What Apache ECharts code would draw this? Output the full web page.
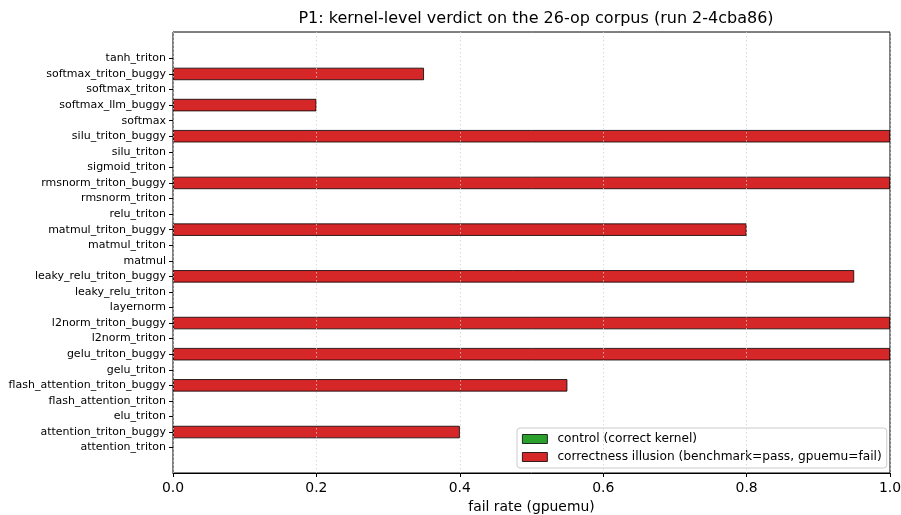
<!DOCTYPE html>
<html><head><meta charset="utf-8">
<script src="https://cdn.jsdelivr.net/npm/echarts@6/dist/echarts.min.js"></script>
<style>html,body{margin:0;padding:0;background:#fff}#c{width:901px;height:515px}</style>
</head><body><div id="c"></div>
<script>
const categories = ['attention_triton','attention_triton_buggy','elu_triton','flash_attention_triton','flash_attention_triton_buggy','gelu_triton','gelu_triton_buggy','l2norm_triton','l2norm_triton_buggy','layernorm','leaky_relu_triton','leaky_relu_triton_buggy','matmul','matmul_triton','matmul_triton_buggy','relu_triton','rmsnorm_triton','rmsnorm_triton_buggy','sigmoid_triton','silu_triton','silu_triton_buggy','softmax','softmax_llm_buggy','softmax_triton','softmax_triton_buggy','tanh_triton'];
const controlValues = [0,null,0,0,null,0,null,0,null,0,0,null,0,0,null,0,0,null,0,0,null,0,null,0,null,0];
const illusionValues = [null,0.40,null,null,0.55,null,1.0,null,1.0,null,null,0.95,null,null,0.80,null,null,1.0,null,null,1.0,null,0.20,null,0.35,null];
const xTicks = [0.0,0.2,0.4,0.6,0.8,1.0];

const F = 'DejaVu Sans';
const chart = echarts.init(document.getElementById('c'), null, {renderer:'canvas'});
chart.setOption({
  animation:false,
  textStyle:{fontFamily:F,color:'#000'},
  title:{text:'P1: kernel-level verdict on the 26-op corpus (run 2-4cba86)',left:531,top:6,textAlign:'center',
    textStyle:{fontFamily:F,fontSize:16,fontWeight:'normal',color:'#000'}},
  grid:[
    {left:173,right:11,top:32,bottom:42,show:true,borderColor:'#000',borderWidth:1,backgroundColor:'transparent',containLabel:false,outerBoundsMode:'none'},
    {left:173,right:11,top:50.6,bottom:59.6,containLabel:false,outerBoundsMode:'none'}
  ],
  xAxis:[
    {gridIndex:0,type:'value',min:0,max:1,interval:0.2,z:5,
     name:'fail rate (gpuemu)',nameLocation:'middle',nameGap:27,nameTextStyle:{fontFamily:F,fontSize:13.9,color:'#000'},
     axisLine:{show:true,lineStyle:{color:'#000'}},
     axisTick:{show:true,length:4,lineStyle:{color:'#000'}},
     axisLabel:{fontFamily:F,fontSize:13.9,color:'#000',margin:8,formatter:v=>v.toFixed(1)},
     splitLine:{show:true,lineStyle:{color:'#d0d0d0',type:[1.5,2.5],width:0.8}}},
    {gridIndex:1,type:'value',min:0,max:1,show:false,splitLine:{show:false}}
  ],
  yAxis:[
    {gridIndex:0,type:'value',min:0,max:1,show:false,splitLine:{show:false}},
    {gridIndex:1,type:'category',data:categories,
     axisLine:{show:false},
     axisTick:{show:true,alignWithLabel:true,length:4,lineStyle:{color:'#000'}},
     axisLabel:{fontFamily:F,fontSize:11,color:'#000',margin:7,interval:0},
     splitLine:{show:false}}
  ],
  legend:{left:517,top:428,orient:'vertical',itemWidth:25,itemHeight:9,itemGap:6,
    backgroundColor:'rgba(255,255,255,0.85)',borderColor:'#cccccc',borderWidth:1,borderRadius:3,padding:[5,5,5,5],
    textStyle:{fontFamily:F,fontSize:12.2,color:'#000',padding:[0,0,0,5]},
    data:[{name:'control (correct kernel)',icon:'rect',itemStyle:{color:'#2ca02c',borderColor:'#000',borderWidth:0.8}},
          {name:'correctness illusion (benchmark=pass, gpuemu=fail)',icon:'rect',itemStyle:{color:'#d62728',borderColor:'#000',borderWidth:0.8}}]},
  series:[
    {name:'control (correct kernel)',type:'bar',xAxisIndex:1,yAxisIndex:1,data:controlValues,barWidth:12.4,barGap:'-100%',
     itemStyle:{color:'#2ca02c',borderWidth:0}},
    {name:'correctness illusion (benchmark=pass, gpuemu=fail)',type:'bar',xAxisIndex:1,yAxisIndex:1,data:illusionValues,barWidth:12.4,barGap:'-100%',
     itemStyle:{color:'#d62728',borderColor:'#000',borderWidth:0.8}}
  ]
});
</script></body></html>
